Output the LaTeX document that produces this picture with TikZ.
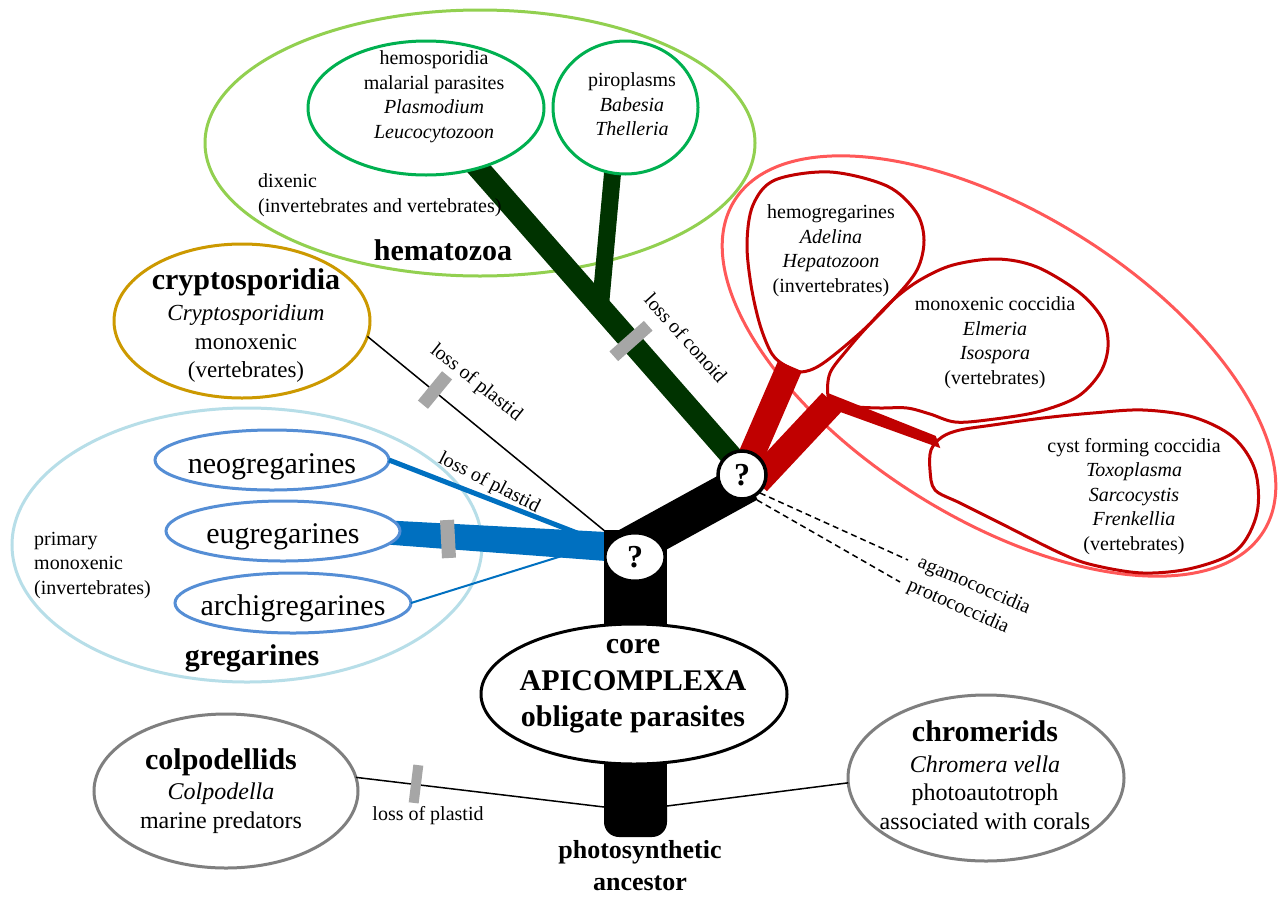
\documentclass[tikz,border=0pt]{standalone}
\usepackage{fontspec}
\setmainfont{Liberation Serif}
\usetikzlibrary{shapes.geometric}
\definecolor{hemaout}{RGB}{146,208,80}
\definecolor{hemain}{RGB}{0,176,80}
\definecolor{dkgreen}{RGB}{0,51,0}
\definecolor{redout}{RGB}{255,88,88}
\definecolor{redin}{RGB}{192,0,0}
\definecolor{gregout}{RGB}{183,222,232}
\definecolor{gregin}{RGB}{85,142,213}
\definecolor{blueb}{RGB}{0,112,192}
\definecolor{cryptoc}{RGB}{204,153,0}
\definecolor{grayel}{RGB}{127,127,127}
\definecolor{barc}{RGB}{166,166,166}
\begin{document}
\begin{tikzpicture}[x=1pt,y=-1pt,
  ell/.style={ellipse, inner sep=0pt, outer sep=0pt},
  gbar/.style={rectangle, fill=barc, inner sep=0pt, outer sep=0pt},
  t20/.style={font=\fontsize{20}{24.5}\selectfont, align=center, inner sep=0pt},
  t23/.style={font=\fontsize{23}{28.5}\selectfont, align=center, inner sep=0pt},
  t24/.style={font=\fontsize{24}{29}\selectfont, align=center, inner sep=0pt},
  t30/.style={font=\fontsize{30}{36}\selectfont, align=center, inner sep=0pt},
  b30/.style={font=\fontsize{30}{36.5}\selectfont\bfseries, align=center, inner sep=0pt},
  b26/.style={font=\fontsize{26}{32}\selectfont\bfseries, align=center, inner sep=0pt},
  qnode/.style={draw=black, fill=white, inner sep=0pt, font=\fontsize{32}{32}\selectfont\bfseries}]
\fill[white] (0,0) rectangle (1279,897);
\useasboundingbox (0,0) rectangle (1279,897);

% group outlines
\node[ell, draw=hemaout, line width=3pt, minimum width=550pt, minimum height=266pt] (hema) at (480,143) {};
\node[ell, draw=redout, line width=3pt, rotate=-32, minimum width=624pt, minimum height=306pt] (cocc) at (999,366) {};
\node[ell, draw=gregout, line width=3pt, minimum width=470pt, minimum height=274pt] (greg) at (247,545) {};

% hematozoa branches
\coordinate (gA) at (466,154);
\coordinate (gB) at (740,466);
\coordinate (gC) at (613,168);
\coordinate (gD) at (601,300);
\draw[dkgreen, line width=22pt] (gA) -- (gB);
\draw[dkgreen, line width=17pt] (gC) -- (gD);
\node[ell, draw=hemain, fill=white, line width=3pt, minimum width=236pt, minimum height=134pt] (hemo) at (426,108) {};
\node[ell, draw=hemain, fill=white, line width=3pt, minimum width=145pt, minimum height=133pt] (piro) at (625.5,107.5) {};

% coccidia branches
\coordinate (rA) at (745,470);
\coordinate (rB) at (790,366);
\coordinate (rC) at (757,482);
\coordinate (rD) at (832,402);
\draw[redin, line width=26pt] (rA) -- (rB);
\draw[redin, line width=27pt] (rC) -- (rD);
\fill[redin] (826.8,392.6) -- (935.7,435.9) -- (940.3,448.1) -- (833.2,409.4) -- cycle;
\draw[redin, line width=3pt] plot[smooth cycle, tension=0.55] coordinates {(801,372) (786,366) (772,354) (760,325) (751,285) (747,243) (753,205) (775,180) (830,172) (887,186) (916,212) (924,240) (917,270) (893,300) (860,333) (822,364)};
\draw[redin, line width=3pt] plot[smooth cycle, tension=0.55] coordinates {(828,396) (830,373) (847,350) (867,327) (893,300) (920,280) (953,265) (997,259) (1037,267) (1080,293) (1103,320) (1108,347) (1100,373) (1077,397) (1037,412) (987,420) (955,422) (930,414) (907,408) (880,408) (857,407) (835,404)};
\draw[redin, line width=3pt] plot[smooth cycle, tension=0.55] coordinates {(942,437) (960,430) (993,425) (1043,418) (1093,413) (1143,410) (1193,417) (1233,437) (1255,470) (1257,513) (1237,550) (1193,568) (1143,573) (1093,565) (1060,553) (1000,523) (960,503) (935,490) (930,470) (931,450)};

% gregarines
\coordinate (euA) at (380,520);
\coordinate (euB) at (606,532);
\coordinate (euC) at (606,561);
\coordinate (euD) at (380,544);
\fill[blueb] (euA) -- (euB) -- (euC) -- (euD) -- cycle;
\node[ell, draw=gregin, fill=white, line width=3pt, minimum width=234pt, minimum height=60pt] (neo) at (272,460) {};
\node[ell, draw=gregin, fill=white, line width=3pt, minimum width=234pt, minimum height=60pt] (eu) at (283,531) {};
\node[ell, draw=gregin, fill=white, line width=3pt, minimum width=236pt, minimum height=60pt] (archi) at (293,603) {};
\coordinate (neoE) at (590,538);
\coordinate (archiE) at (565,555);
\draw[blueb, line width=5pt] (neo.east) -- (neoE);
\draw[blueb, line width=2pt] (archi.east) -- (archiE);

% cryptosporidia
\node[ell, draw=cryptoc, line width=3pt, minimum width=256pt, minimum height=154pt] (crypto) at (242,321) {};
\coordinate (cryE) at (606,532);
\draw[black, line width=1.5pt] (crypto.-7) -- (cryE);

% colpodellids / chromerids
\node[ell, draw=grayel, line width=3pt, minimum width=264pt, minimum height=154pt] (colp) at (226,791) {};
\node[ell, draw=grayel, line width=3pt, minimum width=276pt, minimum height=166pt] (chrom) at (986,778) {};
\coordinate (trL) at (604,807);
\coordinate (trR) at (667,806);
\draw[black, line width=1.5pt] (colp.6) -- (trL);
\draw[black, line width=1.5pt] (chrom.182) -- (trR);

% black trunk
\fill[black] (604,530) rectangle (667,815);
\fill[black, rounded corners=15pt] (604,790) -- (604,837) -- (667,837) -- (667,790) -- cycle;
\coordinate (bA) at (626,549);
\coordinate (bB) at (748,482);
\draw[black, line width=40pt] (bA) -- (bB);
\coordinate (dA1) at (760,493);
\coordinate (dA2) at (908,560);
\coordinate (dB1) at (757,500);
\coordinate (dB2) at (900,582);
\draw[black, line width=1.5pt, dash pattern=on 6pt off 4pt] (dA1) -- (dA2);
\draw[black, line width=1.5pt, dash pattern=on 6pt off 4pt] (dB1) -- (dB2);

\node[ell, draw=black, fill=white, line width=3pt, minimum width=306pt, minimum height=140pt] (core) at (634,694) {};

% question nodes
\node[qnode, circle, line width=3.5pt, minimum size=48pt] (q1) at (742,475) {?};
\node[qnode, ellipse, line width=2pt, minimum width=59pt, minimum height=47pt] (q2) at (635,557) {?};

% bars
\node[gbar, minimum width=13pt, minimum height=46pt, rotate=-48.5] (bar1) at (631,341) {};
\node[gbar, minimum width=13pt, minimum height=38pt, rotate=-39.4] (bar2) at (435,390) {};
\node[gbar, minimum width=14pt, minimum height=38pt, rotate=3] (bar3) at (448,539) {};
\node[gbar, minimum width=10pt, minimum height=38pt, rotate=-7] (bar4) at (416,784) {};

% texts
\node[t20] (hemot) at (434,96.5) {hemosporidia\\malarial parasites\\\textit{Plasmodium}\\\textit{Leucocytozoon}};
\node[t20] (pirot) at (632,104.5) {piroplasms\\\textit{Babesia}\\\textit{Thelleria}};
\node[t20, align=left, anchor=west] (dix) at (258,195) {dixenic\\(invertebrates and vertebrates)};
\node[b30] (hemat) at (443,250) {hematozoa};
\node[b30] (cryt) at (246,282) {cryptosporidia};
\node[t23] (cryb) at (246,343.5) {\textit{Cryptosporidium}\\monoxenic\\(vertebrates)};
\node[t30] (neot) at (272,467) {neogregarines};
\node[t30] (eut) at (283,537) {eugregarines};
\node[t30] (archit) at (293,608) {archigregarines};
\node[t20, align=left, anchor=west] (prim) at (34,565) {primary\\monoxenic\\(invertebrates)};
\node[b30] (gregt) at (252,658) {gregarines};
\node[t20] (hgt) at (831,250.5) {hemogregarines\\\textit{Adelina}\\\textit{Hepatozoon}\\(invertebrates)};
\node[t20] (mct) at (995,342.5) {monoxenic coccidia\\\textit{Elmeria}\\\textit{Isospora}\\(vertebrates)};
\node[t20] (cft) at (1134,496.5) {cyst forming coccidia\\\textit{Toxoplasma}\\\textit{Sarcocystis}\\\textit{Frenkellia}\\(vertebrates)};
\node[b30] (coret) at (633,686.5) {core\\APICOMPLEXA\\obligate parasites};
\node[b26] (anc) at (640,866) {photosynthetic\\ancestor};
\node[b30] (colpt) at (221,762) {colpodellids};
\node[t24] (colpb) at (221,808.5) {\textit{Colpodella}\\marine predators};
\node[b30] (chromt) at (985,731) {chromerids};
\node[t24, font=\fontsize{24}{28.5}\selectfont] (chromb) at (985,792.5) {\textit{Chromera vella}\\photoautotroph\\associated with corals};
\node[t20] (lp4) at (428,816) {loss of plastid};
\node[t20, rotate=-38.6] (lp2) at (476,383) {loss of plastid};
\node[t20, rotate=-27] (lp3) at (489,483) {loss of plastid};
\node[t20, rotate=-48] (lc) at (686,338) {loss of conoid};
\node[t20, rotate=-23] (aga) at (974,586) {agamococcidia};
\node[t20, rotate=-24] (pro) at (958,607) {protococcidia};
\end{tikzpicture}
\end{document}
